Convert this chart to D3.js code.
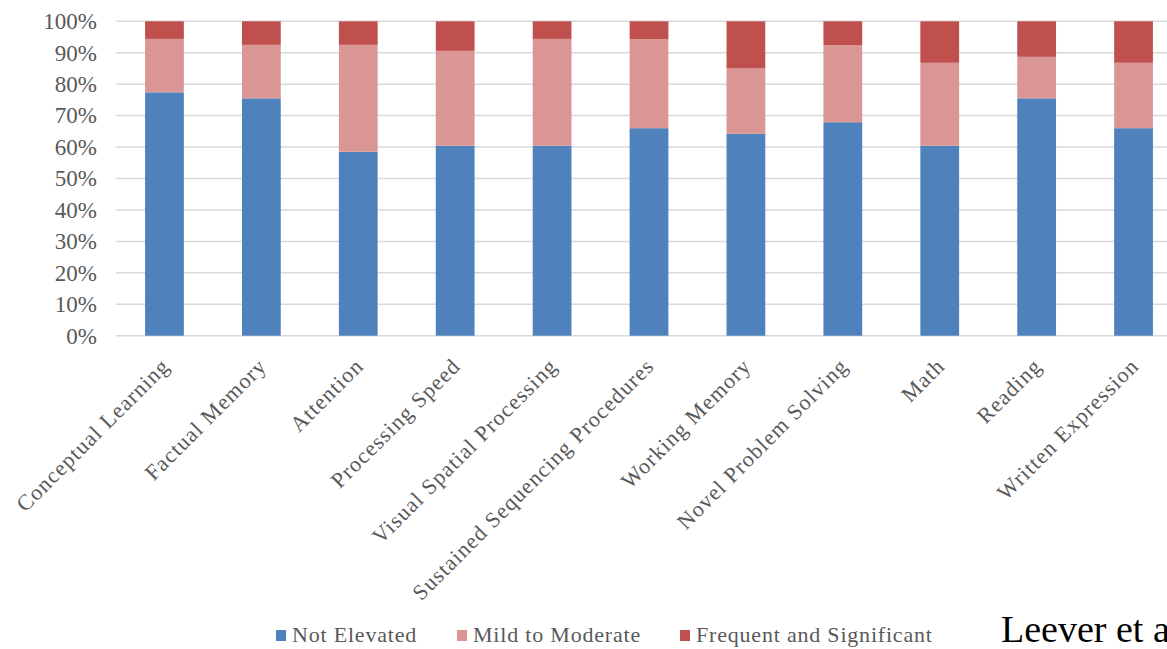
<!DOCTYPE html>
<html><head><meta charset="utf-8">
<script src="https://cdn.jsdelivr.net/npm/d3@7"></script>
<style>body{margin:0;background:#fff;}svg{display:block;}</style>
</head><body>
<svg id="chart" width="1167" height="649"></svg>
<script>
const categories = ["Conceptual Learning","Factual Memory","Attention","Processing Speed","Visual Spatial Processing","Sustained Sequencing Procedures","Working Memory","Novel Problem Solving","Math","Reading","Written Expression"];
const seriesNames = ["Not Elevated","Mild to Moderate","Frequent and Significant"];
const notElevated = [77.4,75.5,58.5,60.4,60.4,66.0,64.2,67.9,60.4,75.5,66.0];
const mildModerate = [17.0,17.0,34.0,30.2,34.0,28.3,20.8,24.5,26.4,13.2,20.8];
const frequentSignificant = [5.6,7.5,7.5,9.4,5.6,5.7,15.0,7.6,13.2,11.3,13.2];
const yTicks = [0,10,20,30,40,50,60,70,80,90,100];
const colors = ["#4F81BD","#DA9694","#C0504D"];

const svg = d3.select("#chart");
const font = "'Liberation Serif','Times New Roman',serif";
const plot = {left:116, right:1182, top:21.3, bottom:335.7};

const x = d3.scaleBand().domain(categories).range([plot.left, plot.right]).paddingInner(0.6).paddingOuter(0.3);
const y = d3.scaleLinear().domain([0,100]).range([plot.bottom, plot.top]);

// gridlines
svg.append("g").selectAll("line").data(yTicks).join("line")
  .attr("x1", plot.left).attr("x2", 1167)
  .attr("y1", d => y(d)).attr("y2", d => y(d))
  .attr("stroke", "#D9D9D9").attr("stroke-width", 1.5);

// y axis labels
const yAxis = d3.axisLeft(y).tickValues(yTicks).tickFormat(d => d + "%").tickSize(0).tickPadding(0);
const ga = svg.append("g").attr("transform", `translate(${97},0)`).call(yAxis);
ga.select(".domain").remove();
ga.selectAll("text").attr("font-family", font).attr("font-size", 23).attr("fill", "#595959");

// stacked data
const rows = categories.map((c,i) => ({cat:c, "Not Elevated":notElevated[i], "Mild to Moderate":mildModerate[i], "Frequent and Significant":frequentSignificant[i]}));
const stack = d3.stack().keys(seriesNames)(rows);
svg.append("g").selectAll("g").data(stack).join("g")
  .attr("fill", (d,i) => colors[i])
  .selectAll("rect").data(d => d).join("rect")
  .attr("x", d => x(d.data.cat))
  .attr("width", x.bandwidth())
  .attr("y", d => y(Math.min(100, d[1])))
  .attr("height", d => y(d[0]) - y(Math.min(100, d[1])));

// category labels (rotated)
svg.append("g").selectAll("text").data(categories).join("text")
  .attr("transform", d => `translate(${x(d) + x.bandwidth()/2 + 1},${362}) rotate(-45)`)
  .attr("text-anchor", "end")
  .attr("dy", "0.35em")
  .attr("font-family", font).attr("font-size", 22).attr("letter-spacing", 1.1).attr("fill", "#595959")
  .text(d => d);

// legend
const legendX = [276, 457, 680];
const lg = svg.append("g").selectAll("g").data(seriesNames).join("g")
  .attr("transform", (d,i) => `translate(${legendX[i]},${630})`);
lg.append("rect").attr("width", 10).attr("height", 11).attr("fill", (d,i) => colors[i]);
lg.append("text").attr("x", 16).attr("y", 12).attr("font-family", font).attr("font-size", 22).attr("letter-spacing", 0.8).attr("fill", "#595959").text(d => d);

svg.append("text").attr("x", 1001).attr("y", 642).attr("font-family", font).attr("font-size", 38).attr("fill", "#000").text("Leever et al.");
</script>
</body></html>
